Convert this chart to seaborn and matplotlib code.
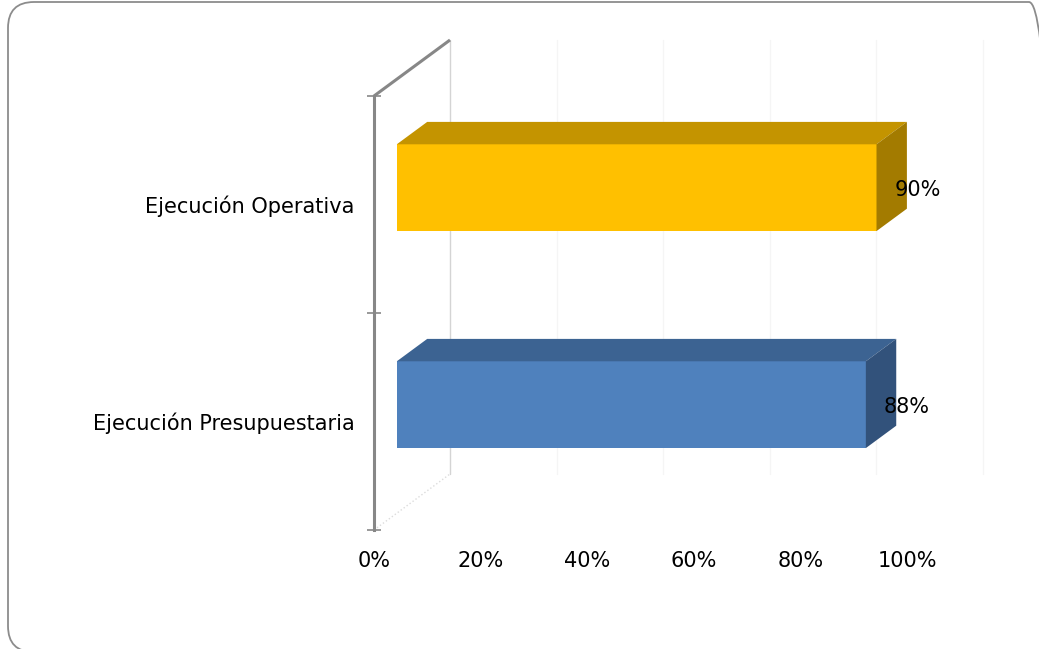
import numpy as np
import pandas as pd
import seaborn as sns
import matplotlib
matplotlib.use("Agg")
import matplotlib.pyplot as plt
import matplotlib.transforms as mtrans
from matplotlib.patches import Polygon, FancyBboxPatch
from matplotlib.lines import Line2D

# ---- data ----
categories = ["Ejecución Operativa", "Ejecución Presupuestaria"]
values = [90, 88]
data_labels = ["90%", "88%"]
tick_values = [0, 20, 40, 60, 80, 100]
tick_labels = ["0%", "20%", "40%", "60%", "80%", "100%"]

# ---- styles ----
front_colors = ["#FFC000", "#4F81BD"]
top_colors = ["#C49400", "#3C6392"]
side_colors = ["#A37B00", "#32527B"]
axis_gray = "#878787"

W, H, DPI = 1039, 649, 100
DX, DY = 76.0, 56.0          # full depth offset of the 3D box (pixels)
D0, D1 = 0.30, 0.70          # bar depth range (fraction of full depth)
BAR_W = 0.40

sns.set_theme(style="white")
plt.rcParams['font.family'] = ['DejaVu Sans']

fig = plt.figure(figsize=(W / DPI, H / DPI), dpi=DPI)
fig.patch.set_facecolor("white")
ax = fig.add_axes([374 / W, (H - 530) / H, 533 / W, 434 / H])
ax.set_facecolor("none")

df = pd.DataFrame({"cat": categories, "val": values})
sns.barplot(data=df, x="val", y="cat", hue="cat", palette=front_colors,
            width=BAR_W, saturation=1, legend=False, ax=ax, orient="h",
            edgecolor="none", linewidth=0)
ax.set_xlim(0, 100)
ax.set_ylim(1.5, -0.5)
ax.set_xlabel("")
ax.set_ylabel("")


def shift(x, y, d):
    px, py = ax.transData.transform((x, y))
    return ax.transData.inverted().transform((px + d * DX, py + d * DY))


# move front faces to depth D0
front_tr = ax.transData + mtrans.Affine2D().translate(D0 * DX, D0 * DY)
for p in ax.patches:
    p.set_transform(front_tr)
    p.set_clip_on(False)
    p.set_zorder(3)

# top and side faces
for i, v in enumerate(values):
    yt, yb = i - BAR_W / 2, i + BAR_W / 2
    top = [shift(0, yt, D0), shift(v, yt, D0), shift(v, yt, D1), shift(0, yt, D1)]
    side = [shift(v, yt, D0), shift(v, yb, D0), shift(v, yb, D1), shift(v, yt, D1)]
    ax.add_patch(Polygon(top, closed=True, facecolor=top_colors[i],
                         edgecolor="none", clip_on=False, zorder=3))
    ax.add_patch(Polygon(side, closed=True, facecolor=side_colors[i],
                         edgecolor="none", clip_on=False, zorder=3))

# back wall gridlines
for t in tick_values:
    a, b = shift(t, -0.5, 1), shift(t, 1.5, 1)
    col = "#d4d4d4" if t == 0 else "#f5f5f5"
    ax.add_line(Line2D([a[0], b[0]], [a[1], b[1]], color=col, lw=1.0,
                       clip_on=False, zorder=1))

# top diagonal of the side wall
a, b = shift(0, -0.5, 0), shift(0, -0.5, 1)
ax.add_line(Line2D([a[0], b[0]], [a[1], b[1]], color=axis_gray, lw=2.2,
                   clip_on=False, zorder=2, solid_capstyle="butt"))
# floor edge
a, b = shift(0, 1.5, 0), shift(0, 1.5, 1)
ax.add_line(Line2D([a[0], b[0]], [a[1], b[1]], color="#dcdcdc", lw=1.0,
                   ls=":", clip_on=False, zorder=1))

# spines
for s in ["top", "right", "bottom"]:
    ax.spines[s].set_visible(False)
ax.spines["left"].set_color(axis_gray)
ax.spines["left"].set_linewidth(2.2)
ax.spines["left"].set_zorder(2)

# ticks
ax.set_xticks(tick_values)
ax.set_xticklabels(tick_labels)
ax.tick_params(axis="x", length=0, pad=15, labelsize=15, colors="black")
ax.set_yticks([0, 1])
ax.set_yticklabels(categories)
ax.set_yticks([-0.5, 0.5, 1.5], minor=True)
ax.tick_params(axis="y", which="major", length=0, pad=14, labelsize=15,
               colors="black")
ax.tick_params(axis="y", which="minor", direction="inout", length=10,
               width=1.2, color=axis_gray, left=True)
ax.grid(False)

# data labels
lab_tr = ax.transData + mtrans.Affine2D().translate(D0 * DX + 18, D0 * DY - 2)
for i, v in enumerate(values):
    ax.text(v, i, data_labels[i], transform=lab_tr, ha="left", va="center",
            fontsize=15, color="black", zorder=5, clip_on=False)

# rounded chart border
border = FancyBboxPatch((8, -3), 1047, 650,
                        boxstyle="round,pad=0,rounding_size=26",
                        transform=mtrans.IdentityTransform(),
                        facecolor="none", edgecolor="#8c8c8c", lw=1.3)
fig.patches.append(border)

fig.savefig("out.png", dpi=DPI)
